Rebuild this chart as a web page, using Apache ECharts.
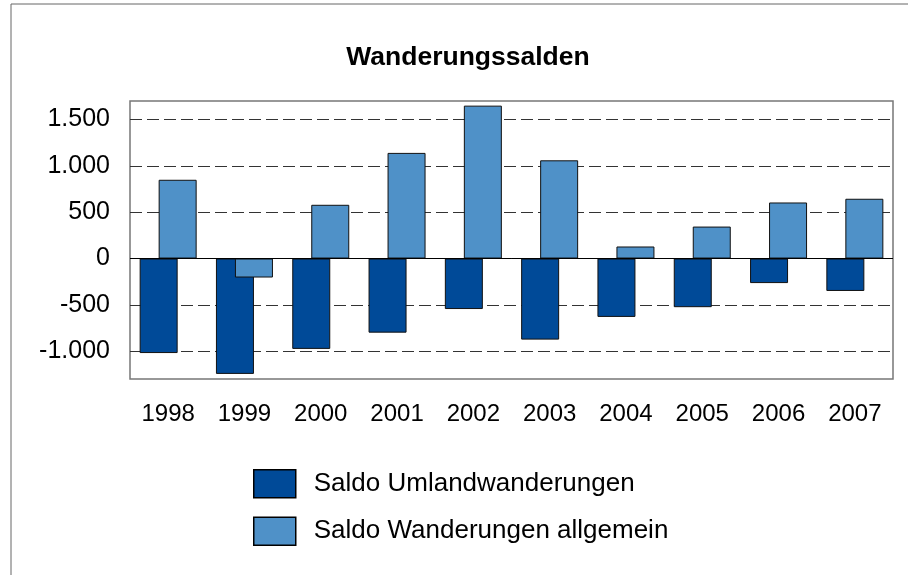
<!DOCTYPE html>
<html>
<head>
<meta charset="utf-8">
<script src="https://cdn.jsdelivr.net/npm/echarts@6/dist/echarts.min.js"></script>
<style>
  html, body { margin: 0; padding: 0; background: #fff; }
  #chart { width: 908px; height: 575px; }
</style>
</head>
<body>
<div id="chart"></div>
<script>
var years = ['1998', '1999', '2000', '2001', '2002', '2003', '2004', '2005', '2006', '2007'];
var umland = [-1020, -1245, -975, -800, -545, -875, -630, -525, -265, -350];
var allgemein = [850, -205, 580, 1140, 1650, 1060, 130, 345, 605, 645];
var yTicks = [-1000, -500, 0, 500, 1000, 1500];

var font = 'Liberation Sans, Arial, sans-serif';

function fmt(v) {
    // deutsches Tausendertrennzeichen
    var s = String(Math.abs(v));
    s = s.replace(/\B(?=(\d{3})+(?!\d))/g, '.');
    return (v < 0 ? '-' : '') + s;
}

var myChart = echarts.init(document.getElementById('chart'));
var option = {
    backgroundColor: '#fff',
    animation: false,
    title: {
        text: 'Wanderungssalden',
        left: 463,
        textAlign: 'center',
        top: 39,
        textStyle: { fontFamily: font, fontSize: 26.5, fontWeight: 'bold', color: '#000' }
    },
    graphic: [{
        type: 'rect',
        shape: { x: 11, y: 4, width: 920, height: 600 },
        style: { fill: 'none', stroke: '#666', lineWidth: 1 },
        silent: true
    }],
    legend: {
        orient: 'vertical',
        left: 248,
        top: 464,
        itemWidth: 42,
        itemHeight: 28,
        itemGap: 18,
        icon: 'rect',
        textStyle: { fontFamily: font, fontSize: 26, color: '#000', padding: [0, 0, 0, 13] },
        itemStyle: { borderColor: '#000', borderWidth: 1.5 },
        data: ['Saldo Umlandwanderungen', 'Saldo Wanderungen allgemein']
    },
    grid: {
        left: 130, right: 15, top: 101, bottom: 196,
        show: true, borderColor: '#777', borderWidth: 1.5
    },
    xAxis: {
        type: 'category',
        data: years,
        axisLine: { show: false },
        axisTick: { show: false },
        axisLabel: { fontFamily: font, fontSize: 24, color: '#000', margin: 23 }
    },
    yAxis: {
        type: 'value',
        min: -1300,
        max: 1700,
        axisLine: { show: false },
        axisTick: { show: false, customValues: yTicks },
        axisLabel: {
            customValues: yTicks,
            fontFamily: font, fontSize: 25, color: '#000', margin: 20,
            formatter: function (v) { return fmt(v); }
        },
        splitLine: {
            show: true,
            lineStyle: { color: '#333', type: [12, 5], width: 1.2 }
        }
    },
    series: [
        {
            name: 'Saldo Umlandwanderungen',
            type: 'bar',
            barWidth: 38,
            barGap: '-50%',
            itemStyle: { color: '#004A98', borderColor: '#111', borderWidth: 1 },
            data: umland,
            markLine: {
                silent: true,
                symbol: 'none',
                label: { show: false },
                lineStyle: { color: '#000', type: 'solid', width: 1 },
                data: [{ yAxis: 0 }]
            }
        },
        {
            name: 'Saldo Wanderungen allgemein',
            type: 'bar',
            barWidth: 38,
            barGap: '-50%',
            itemStyle: { color: '#4F91C8', borderColor: '#111', borderWidth: 1 },
            data: allgemein
        }
    ]
};
myChart.setOption(option);
</script>
</body>
</html>
